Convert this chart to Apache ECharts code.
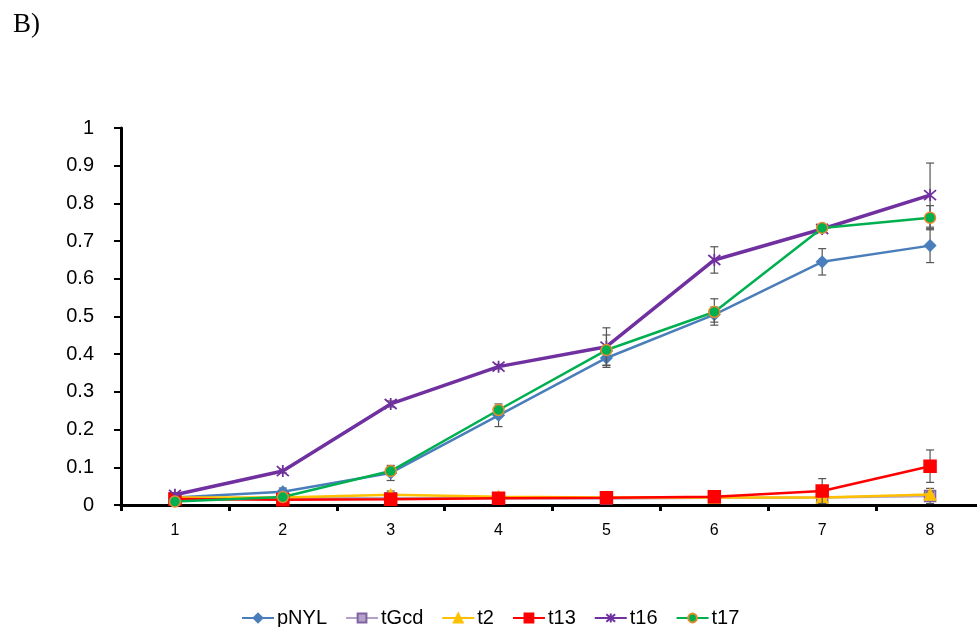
<!DOCTYPE html>
<html>
<head>
<meta charset="utf-8">
<script src="https://cdn.jsdelivr.net/npm/echarts@6/dist/echarts.min.js"></script>
<style>
  html, body { margin: 0; padding: 0; background: #fff; }
  #chart { width: 977px; height: 627px; }
</style>
</head>
<body>
<div id="chart"></div>
<script>
// Time points on the x axis
const categories = ['1', '2', '3', '4', '5', '6', '7', '8'];

// Mean values per strain
const pNYL = [0.020, 0.035, 0.085, 0.238, 0.390, 0.505, 0.645, 0.688];
const tGcd = [0.018, 0.018, 0.018, 0.018, 0.017, 0.019, 0.020, 0.024];
const t2   = [0.020, 0.020, 0.027, 0.022, 0.020, 0.020, 0.020, 0.028];
const t13  = [0.016, 0.014, 0.015, 0.018, 0.019, 0.022, 0.037, 0.103];
const t16  = [0.027, 0.090, 0.268, 0.367, 0.420, 0.650, 0.732, 0.822];
const t17  = [0.009, 0.021, 0.090, 0.252, 0.411, 0.512, 0.735, 0.762];

// Standard deviations (error bar half-lengths)
const errPNYL = [0.005, 0.010, 0.020, 0.030, 0.025, 0.020, 0.035, 0.045];
const errTGcd = [0.002, 0.002, 0.002, 0.002, 0.002, 0.003, 0.004, 0.020];
const errT2   = [0.002, 0.002, 0.010, 0.003, 0.003, 0.003, 0.004, 0.006];
const errT13  = [0.003, 0.003, 0.003, 0.004, 0.004, 0.004, 0.033, 0.043];
const errT16  = [0.005, 0.005, 0.008, 0.006, 0.050, 0.035, 0.006, 0.085];
const errT17  = [0.003, 0.006, 0.010, 0.010, 0.040, 0.035, 0.005, 0.032];

const yTicks = ['0', '0.1', '0.2', '0.3', '0.4', '0.5', '0.6', '0.7', '0.8', '0.9', '1'];

const starPath = 'path://M0,0L10,10M10,0L0,10M5,-1L5,11';

const defs = [
  { name: 'pNYL', data: pNYL, err: errPNYL, color: '#4a7ebb', symbol: 'diamond', size: 11, border: '#4a7ebb', width: 2.5 },
  { name: 'tGcd', data: tGcd, err: errTGcd, color: '#b3a2c7', symbol: 'rect', size: 11, border: '#8064a2', width: 2.5 },
  { name: 't2',   data: t2,   err: errT2,   color: '#ffc000', symbol: 'triangle', size: 11, border: '#ffc000', width: 2.5 },
  { name: 't13',  data: t13,  err: errT13,  color: '#ff0000', symbol: 'rect', size: 12, border: '#ff0000', width: 2.5 },
  { name: 't16',  data: t16,  err: errT16,  color: '#7030a0', symbol: starPath, size: 12, border: '#7030a0', width: 3.5, stroke: true },
  { name: 't17',  data: t17,  err: errT17,  color: '#00b050', symbol: 'circle', size: 11, border: '#e68a2e', width: 2.5 }
];

const series = [];
defs.forEach((d, i) => {
  series.push({
    name: d.name,
    type: 'line',
    data: d.data,
    symbol: d.symbol,
    symbolSize: d.size,
    showAllSymbol: true,
    z: 2 + i,
    lineStyle: { color: d.color, width: d.width },
    itemStyle: d.stroke
      ? { color: d.color, borderColor: d.color, borderWidth: 1.8 }
      : { color: d.color, borderColor: d.border, borderWidth: 1.5 },
    emphasis: { disabled: true },
    animation: false
  });
  // error bars for this series
  series.push({
    type: 'custom',
    name: d.name + '-err',
    z: 2 + i,
    silent: true,
    animation: false,
    data: d.data.map((v, k) => [k, v - d.err[k], v + d.err[k]]),
    renderItem: function (params, api) {
      const x = api.value(0);
      const lo = api.coord([x, api.value(1)]);
      const hi = api.coord([x, api.value(2)]);
      const cap = 4;
      const style = { stroke: '#555', lineWidth: 1.2 };
      return {
        type: 'group',
        children: [
          { type: 'line', shape: { x1: hi[0], y1: hi[1], x2: lo[0], y2: lo[1] }, style },
          { type: 'line', shape: { x1: hi[0] - cap, y1: hi[1], x2: hi[0] + cap, y2: hi[1] }, style },
          { type: 'line', shape: { x1: lo[0] - cap, y1: lo[1], x2: lo[0] + cap, y2: lo[1] }, style }
        ]
      };
    }
  });
});

const chart = echarts.init(document.getElementById('chart'), null, { renderer: 'canvas' });
chart.setOption({
  backgroundColor: '#ffffff',
  animation: false,
  title: {
    text: 'B)',
    left: 8,
    top: 6,
    textStyle: { fontFamily: 'Liberation Serif', fontSize: 27, fontWeight: 'normal', color: '#000' }
  },
  grid: { left: 121, top: 128, width: 863, height: 377, containLabel: false, outerBoundsMode: 'none' },
  legend: {
    top: 603,
    left: 236,
    itemWidth: 32,
    itemHeight: 11,
    itemGap: 18,
    data: defs.map(d => d.name),
    textStyle: { fontFamily: 'Liberation Sans', fontSize: 20, color: '#000', padding: [0, 0, 0, -2] }
  },
  xAxis: {
    type: 'category',
    data: categories,
    boundaryGap: true,
    axisLine: { lineStyle: { color: '#000', width: 3 } },
    axisTick: { show: true, length: 6, lineStyle: { color: '#000', width: 3 } },
    axisLabel: { fontFamily: 'Liberation Sans', fontSize: 16, color: '#000', margin: 18 },
    splitLine: { show: false }
  },
  yAxis: {
    type: 'value',
    min: 0,
    max: 1,
    interval: 0.1,
    axisLine: { show: true, lineStyle: { color: '#000', width: 3 } },
    axisTick: { show: true, length: 7, lineStyle: { color: '#000', width: 2 } },
    axisLabel: {
      fontFamily: 'Liberation Sans', fontSize: 20, color: '#000', margin: 27,
      formatter: (v) => yTicks[Math.round(v * 10)]
    },
    splitLine: { show: false }
  },
  series: series
});
</script>
</body>
</html>
